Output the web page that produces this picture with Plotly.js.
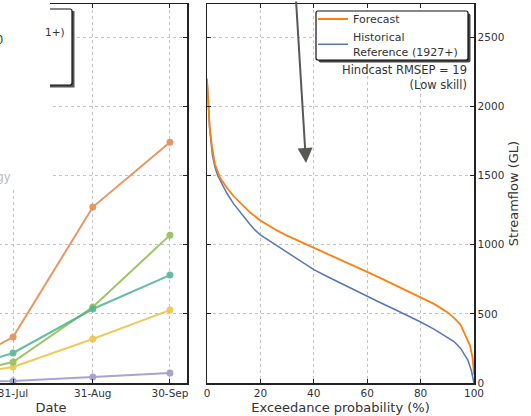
<!DOCTYPE html>
<html><head><meta charset="utf-8">
<script src="https://cdn.plot.ly/plotly-3.0.1.min.js"></script>
<style>
html,body{margin:0;padding:0;overflow:hidden;width:531px;height:416px;background:#fff}
#chart{position:absolute;left:-85px;top:0;width:616px;height:416px}
</style>
</head><body><div id="chart"></div>
<script>
// ---- Left panel: streamflow by date ----
const dates = ['2023-06-30', '2023-07-31', '2023-08-31', '2023-09-30'];
const dateTickLabels = ['30-Jun', '31-Jul', '31-Aug', '30-Sep'];
const seriesOrange = [25, 332, 1272, 1741];
const seriesGreen  = [17, 152, 549, 1069];
const seriesTeal   = [39, 217, 535, 780];
const seriesYellow = [24, 116, 318, 527];
const seriesPurple = [3, 14, 43, 72];

// ---- Right panel: exceedance curves ----
const fcProb = [0, 0.5, 1, 2, 3, 5, 7.5, 10, 13, 16, 20, 23, 26, 30, 35, 40, 45, 50, 55, 60, 65, 70, 75, 80, 85, 90, 93, 95, 97, 98.5, 99.5, 100];
const fcFlow = [2200, 2000, 1850, 1690, 1580, 1480, 1410, 1350, 1290, 1235, 1175, 1140, 1105, 1065, 1022, 980, 935, 890, 848, 803, 758, 712, 667, 621, 572, 512, 462, 420, 340, 270, 180, 60];
const hiProb = [0, 0.5, 1, 2, 3, 4, 5.6, 7.5, 10, 12, 14, 16, 18, 20, 22, 24, 26, 28, 30, 35, 40, 45, 50, 55, 60, 65, 70, 75, 80, 85, 90, 92.5, 95, 97.7, 99, 100];
const hiFlow = [2200, 2000, 1840, 1650, 1560, 1500, 1440, 1370, 1295, 1245, 1200, 1150, 1105, 1070, 1045, 1020, 995, 970, 945, 880, 820, 770, 722, 670, 625, 580, 535, 490, 441, 390, 330, 300, 250, 166, 90, 0];
const probTicks = [0, 20, 40, 60, 80, 100];
const flowTicks = [0, 500, 1000, 1500, 2000, 2500];

// layout helpers: page pixel -> paper coordinates
const SHIFT = 85, PW = 559, PT = 4, PB = 383;
const px = x => (x + SHIFT) / PW;
const py = y => (PB - y) / (PB - PT);

const font = 'DejaVu Sans, sans-serif';
const txt = '#333';

function dateTrace(y, color) {
  return {x: dates, y: y, type: 'scatter', mode: 'lines+markers', xaxis: 'x', yaxis: 'y',
    line: {color: color, width: 2}, marker: {color: color, size: 7}, opacity: 0.85, showlegend: false,
    hoverinfo: 'skip'};
}

const traces = [
  dateTrace(seriesPurple, '#9b93c9'),
  dateTrace(seriesYellow, '#ebc23e'),
  dateTrace(seriesGreen, '#8dbb4c'),
  dateTrace(seriesTeal, '#4cb391'),
  dateTrace(seriesOrange, '#e3864a'),
  {x: hiProb, y: hiFlow, type: 'scatter', mode: 'lines', xaxis: 'x2', yaxis: 'y2',
    name: 'Historical<br>Reference (1927+)', line: {color: '#5577b8', width: 1.5}},
  {x: fcProb, y: fcFlow, type: 'scatter', mode: 'lines', xaxis: 'x2', yaxis: 'y2',
    name: 'Forecast', line: {color: '#ff7f0e', width: 1.8}}
];

const axCommon = {showline: true, linecolor: '#222', linewidth: 1.5, mirror: 'ticks',
  ticks: 'inside', ticklen: 4, tickcolor: '#222', showgrid: true, gridcolor: '#c4c4c4',
  griddash: 'dot', gridwidth: 1, zeroline: false, tickfont: {family: font, size: 10.5, color: txt}};

function roundBox(x0, y0, x1, y1, r) {
  return `M ${px(x0 + r)},${py(y0)} L ${px(x1 - r)},${py(y0)} Q ${px(x1)},${py(y0)} ${px(x1)},${py(y0 + r)} ` +
    `L ${px(x1)},${py(y1 - r)} Q ${px(x1)},${py(y1)} ${px(x1 - r)},${py(y1)} L ${px(x0 + r)},${py(y1)} ` +
    `Q ${px(x0)},${py(y1)} ${px(x0)},${py(y1 - r)} L ${px(x0)},${py(y0 + r)} Q ${px(x0)},${py(y0)} ${px(x0 + r)},${py(y0)} Z`;
}

const layout = {
  width: 616, height: 416,
  margin: {l: 0, r: 57, t: PT, b: 416 - PB},
  paper_bgcolor: '#fff', plot_bgcolor: '#fff',
  font: {family: font, color: txt},
  xaxis: Object.assign({}, axCommon, {domain: [0, 272 / PW], type: 'date',
    range: ['2023-06-22 21:00', '2023-10-06 15:00'], tickvals: dates, ticktext: dateTickLabels,
    title: {text: 'Date', font: {family: font, size: 13, color: txt}, standoff: 5}}),
  yaxis: Object.assign({}, axCommon, {range: [0, 2740], tickvals: flowTicks, showticklabels: false}),
  xaxis2: Object.assign({}, axCommon, {domain: [292 / PW, 1], range: [0, 100], tickvals: probTicks,
    anchor: 'y2',
    title: {text: 'Exceedance probability (%)', font: {family: font, size: 13, color: txt}, standoff: 5}}),
  yaxis2: Object.assign({}, axCommon, {anchor: 'x2', side: 'right', range: [0, 2740], tickvals: flowTicks,
    title: {text: 'Streamflow (GL)', font: {family: font, size: 13, color: txt}, standoff: 5}}),
  legend: {x: px(313), xanchor: 'left', y: py(4.5), yanchor: 'top', bgcolor: 'rgba(0,0,0,0)',
    borderwidth: 0, font: {family: font, size: 11, color: txt},
    traceorder: 'reversed', itemwidth: 30, tracegroupgap: 0},
  shapes: [
    // white cover on the far left (part of neighbouring figure element)
    {type: 'rect', xref: 'paper', yref: 'paper', x0: px(-85), x1: px(50), y0: py(188), y1: py(-5),
      fillcolor: '#fff', line: {width: 0}, layer: 'above'},
    // partial legend box of left panel: shadow then box
    {type: 'path', xref: 'paper', yref: 'paper', layer: 'above',
      path: `M ${px(50)},${py(11)} L ${px(74.5)},${py(11)} L ${px(74.5)},${py(87.5)} L ${px(50)},${py(87.5)} Z`,
      fillcolor: '#555', line: {width: 0}},
    {type: 'path', xref: 'paper', yref: 'paper', layer: 'above',
      path: `M ${px(50)},${py(9)} L ${px(70)},${py(9)} Q ${px(72)},${py(9)} ${px(72)},${py(11)} L ${px(72)},${py(83)} Q ${px(72)},${py(85)} ${px(70)},${py(85)} L ${px(50)},${py(85)}`,
      fillcolor: '#fff', line: {color: '#111', width: 1.2}},
    // right legend frame: shadow then rounded box
    {type: 'path', xref: 'paper', yref: 'paper', layer: 'above',
      path: roundBox(318.5, 13.5, 470.5, 62.5, 2), fillcolor: '#444', line: {width: 0}},
    {type: 'path', xref: 'paper', yref: 'paper', layer: 'above',
      path: roundBox(316, 11, 468, 60, 2), fillcolor: '#fff', line: {color: '#111', width: 1.2}}
  ],
  annotations: [
    {xref: 'paper', yref: 'paper', x: px(469), y: py(78), xanchor: 'right', yanchor: 'middle',
      align: 'right', showarrow: false, text: 'Hindcast RMSEP = 19<br>(Low skill)',
      font: {family: font, size: 11.5, color: txt}},
    {xref: 'paper', yref: 'paper', x: px(306), y: py(163), text: '', showarrow: true,
      ax: -10, ay: -185, arrowhead: 2, arrowsize: 1.5, arrowwidth: 2, arrowcolor: '#585855'},
    {xref: 'paper', yref: 'paper', x: px(67), y: py(32), xanchor: 'right', yanchor: 'middle',
      showarrow: false, text: '1+)', font: {family: font, size: 10.5, color: txt}},
    {xref: 'paper', yref: 'paper', x: px(4.5), y: py(40), xanchor: 'right', yanchor: 'middle',
      showarrow: false, text: '2500', font: {family: font, size: 11.5, color: txt}},
    {xref: 'paper', yref: 'paper', x: px(13), y: py(177), xanchor: 'right', yanchor: 'middle',
      showarrow: false, text: 'Climatology', font: {family: font, size: 11.5, color: '#bbb'}}
  ]
};

Plotly.newPlot('chart', traces, layout, {staticPlot: true, displayModeBar: false});
</script>
</body></html>
